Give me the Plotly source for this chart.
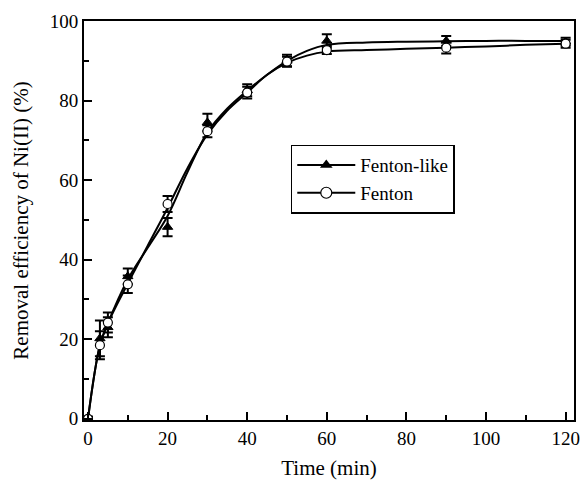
import plotly.graph_objects as go

# Measured data (markers with error bars)
time_min = [0, 3, 5, 10, 20, 30, 40, 50, 60, 90, 120]
fenton_like = [0, 20.2, 23.0, 35.8, 48.2, 74.5, 82.6, 90.0, 95.0, 95.0, 94.8]
fenton_like_err = [0.5, 4.5, 2.5, 2.0, 2.3, 2.2, 1.5, 1.5, 1.7, 1.2, 1.0]
fenton = [0, 18.5, 24.2, 33.8, 54.0, 72.3, 82.0, 89.8, 92.7, 93.3, 94.3]
fenton_err = [0.5, 3.5, 2.5, 2.2, 2.0, 1.5, 1.5, 1.2, 1.0, 1.5, 1.0]

# Smooth fitted curves
fit_time = [0, 3, 5, 10, 15, 20, 25, 30, 35, 40, 45, 50, 55, 60, 70, 80, 90, 100, 110, 120]
fenton_like_fit = [0, 18.5, 24, 35, 43, 51, 62, 72, 78, 82.5, 86.5, 90, 92.5, 94, 94.6, 94.8, 94.9, 95, 95, 95]
fenton_fit = [0, 18.5, 24, 34, 43.5, 53, 63, 71.5, 77.5, 82, 86.5, 89.5, 91.3, 92.3, 92.7, 93, 93.3, 93.6, 94, 94.3]

FONT = "Liberation Serif"

fig = go.Figure()

fig.add_trace(go.Scatter(x=fit_time, y=fenton_like_fit, mode="lines",
                         line=dict(color="black", width=2, shape="spline", smoothing=1),
                         showlegend=False, hoverinfo="skip"))
fig.add_trace(go.Scatter(x=fit_time, y=fenton_fit, mode="lines",
                         line=dict(color="black", width=2, shape="spline", smoothing=1),
                         showlegend=False, hoverinfo="skip"))

fig.add_trace(go.Scatter(x=time_min, y=fenton_like, mode="markers",
                         marker=dict(symbol="triangle-up", size=9, color="black",
                                     line=dict(color="black", width=1)),
                         error_y=dict(type="data", array=fenton_like_err, color="black",
                                      thickness=2, width=5),
                         showlegend=False))
fig.add_trace(go.Scatter(x=time_min, y=fenton, mode="markers",
                         marker=dict(symbol="circle", size=9, color="white",
                                     line=dict(color="black", width=1.2)),
                         error_y=dict(type="data", array=fenton_err, color="black",
                                      thickness=2, width=5),
                         showlegend=False))

# legend entries
fig.add_trace(go.Scatter(x=[None], y=[None], mode="lines+markers", name="Fenton-like",
                         line=dict(color="black", width=2),
                         marker=dict(symbol="triangle-up", size=11, color="black")))
fig.add_trace(go.Scatter(x=[None], y=[None], mode="lines+markers", name="Fenton",
                         line=dict(color="black", width=2),
                         marker=dict(symbol="circle", size=11, color="white",
                                     line=dict(color="black", width=1.2))))

fig.update_layout(
    width=582, height=480,
    margin=dict(l=84, r=8, t=21, b=60),
    paper_bgcolor="white", plot_bgcolor="white",
    font=dict(family=FONT, size=19, color="black"),
    showlegend=True,
    legend=dict(x=0.422, y=0.69, xanchor="left", yanchor="top",
                bordercolor="black", borderwidth=1.5, bgcolor="white",
                font=dict(family=FONT, size=19), tracegroupgap=0,
                itemwidth=58),
)

fig.update_xaxes(
    range=[-1, 122.1], tickmode="array", tickvals=[0, 20, 40, 60, 80, 100, 120],
    ticks="inside", ticklen=8, tickwidth=2, tickcolor="black",
    minor=dict(tickvals=[10, 30, 50, 70, 90, 110], ticks="inside", ticklen=5,
               tickwidth=2, tickcolor="black"),
    showline=True, linecolor="black", linewidth=2, mirror=True,
    showgrid=False, zeroline=False, automargin=False,
    tickfont=dict(family=FONT, size=19),
    title=dict(text="Time (min)", font=dict(family=FONT, size=21)),
)
fig.update_yaxes(
    range=[-0.3, 100], tickmode="array", tickvals=[0, 20, 40, 60, 80, 100],
    ticks="inside", ticklen=8, tickwidth=2, tickcolor="black",
    minor=dict(tickvals=[10, 30, 50, 70, 90], ticks="inside", ticklen=5,
               tickwidth=2, tickcolor="black"),
    showline=True, linecolor="black", linewidth=2, mirror=True,
    showgrid=False, zeroline=False, automargin=False,
    tickfont=dict(family=FONT, size=19),
    title=dict(text="Removal efficiency of Ni(II) (%)", font=dict(family=FONT, size=21)),
)

fig.write_html("out.html", config={"displayModeBar": False},
               post_script="document.body.style.margin='0';document.body.style.overflow='hidden';")
